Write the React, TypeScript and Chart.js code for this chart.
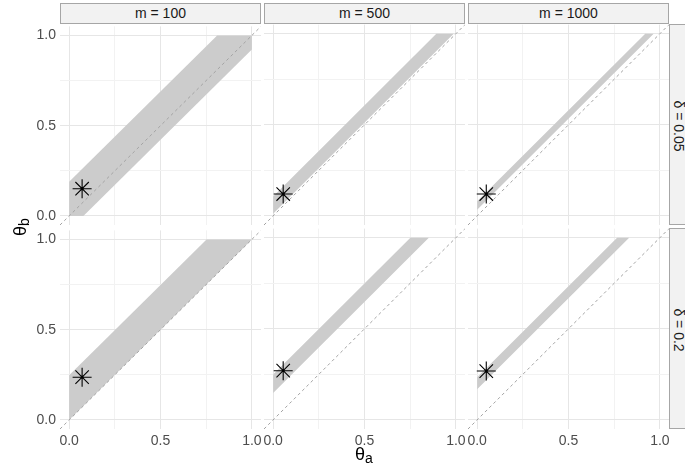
import React, { useEffect, useRef } from 'react';
import Chart from 'chart.js/auto';

// ---- data ----
const colLabels = ['m = 100', 'm = 500', 'm = 1000'];
const rowLabels = ['δ = 0.05', 'δ = 0.2'];
// panels in row-major order: row δ=0.05 (m=100, 500, 1000), row δ=0.2 (m=100, 500, 1000)
const bandLower = [-0.078, 0.012, 0.034, 0.0, 0.148, 0.168];
const bandUpper = [0.19, 0.107, 0.08, 0.248, 0.249, 0.234];
const pointX = [0.071, 0.055, 0.05, 0.071, 0.055, 0.05];
const pointY = [0.151, 0.12, 0.12, 0.237, 0.27, 0.268];
const diagX = [-0.05, 1.05];
const axisTicks = [0, 0.25, 0.5, 0.75, 1];
const tickLabels = ['0.0', '', '0.5', '', '1.0'];
const axisMin = -0.05;
const axisMax = 1.05;

// ---- layout ----
const FONT = '"Liberation Sans", Arial, Helvetica, sans-serif';
const PX = [60, 264, 468];
const PY = [24, 228];
const PW = 201;
const PH = 201;
const PADL = 50;
const PADR = 20;
const PADT = 10;
const PADB = 40;
const YAXW = 35;
const XAXH = 30;

type Pt = { x: number; y: number };

function clip(poly: Pt[], f: (p: Pt) => number): Pt[] {
  const out: Pt[] = [];
  for (let i = 0; i < poly.length; i++) {
    const a = poly[i];
    const b = poly[(i + 1) % poly.length];
    const fa = f(a);
    const fb = f(b);
    if (fa >= 0) out.push(a);
    if ((fa >= 0) !== (fb >= 0)) {
      const t = fa / (fa - fb);
      out.push({ x: a.x + t * (b.x - a.x), y: a.y + t * (b.y - a.y) });
    }
  }
  return out;
}

function bandPolygon(lo: number, hi: number): Pt[] {
  let poly: Pt[] = [
    { x: 0, y: 0 },
    { x: 1, y: 0 },
    { x: 1, y: 1 },
    { x: 0, y: 1 },
  ];
  poly = clip(poly, (p) => p.y - p.x - lo);
  poly = clip(poly, (p) => p.x + hi - p.y);
  return poly;
}

function tickLabel(v: number): string {
  const k = axisTicks.findIndex((t) => Math.abs(t - v) < 1e-9);
  return k >= 0 ? tickLabels[k] : '';
}

function isMajor(v: number | undefined): boolean {
  if (v === undefined) return false;
  return tickLabel(v) !== '';
}

function Panel({ r, c }: { r: number; c: number }) {
  const ref = useRef<HTMLCanvasElement | null>(null);
  const i = r * 3 + c;
  const w = PADL + PW + PADR;
  const h = PADT + PH + PADB;
  useEffect(() => {
    if (!ref.current) return;
    const poly = bandPolygon(bandLower[i], bandUpper[i]);
    const diag = diagX.map((v) => ({ x: v, y: v }));
    const gridColor = (ctx: any) => (isMajor(ctx.tick?.value) ? '#e6e6e6' : '#f2f2f2');
    const chart = new Chart(ref.current, {
      type: 'line',
      data: {
        datasets: [
          {
            data: [{ x: pointX[i], y: pointY[i] }],
            showLine: false,
            pointStyle: 'star',
            pointRadius: 9.5,
            pointBorderColor: '#000',
            pointBackgroundColor: '#000',
            pointBorderWidth: 1.1,
          } as any,
          {
            data: [{ x: pointX[i], y: pointY[i] }],
            showLine: false,
            pointStyle: 'circle',
            pointRadius: 1.2,
            pointBorderWidth: 0,
            pointBackgroundColor: '#000',
          } as any,
          {
            data: diag,
            borderColor: '#a3a3a3',
            borderWidth: 1,
            borderDash: [3, 3],
            pointRadius: 0,
            fill: false,
            tension: 0,
          } as any,
          {
            data: poly,
            borderWidth: 0,
            borderColor: 'rgba(0,0,0,0)',
            backgroundColor: '#cccccc',
            fill: 'shape',
            pointRadius: 0,
            tension: 0,
          } as any,
        ],
      },
      options: {
        animation: false,
        responsive: false,
        maintainAspectRatio: false,
        devicePixelRatio: 1,
        events: [],
        layout: {
          padding: {
            left: c === 0 ? PADL - YAXW : PADL,
            right: PADR,
            top: PADT,
            bottom: r === 1 ? PADB - XAXH : PADB,
          },
        },
        plugins: { legend: { display: false }, tooltip: { enabled: false } },
        scales: {
          x: {
            type: 'linear',
            min: axisMin,
            max: axisMax,
            afterBuildTicks: (s: any) => {
              s.ticks = axisTicks.map((v) => ({ value: v }));
            },
            afterFit: (s: any) => {
              s.height = r === 1 ? XAXH : 0;
            },
            ticks: {
              display: r === 1,
              autoSkip: false,
              maxRotation: 0,
              minRotation: 0,
              padding: 4,
              color: '#4d4d4d',
              font: { size: 14, family: FONT },
              callback: (v: any) => tickLabel(Number(v)),
            },
            grid: { color: gridColor, lineWidth: 1, drawTicks: false },
            border: { display: false },
          },
          y: {
            type: 'linear',
            min: axisMin,
            max: axisMax,
            afterBuildTicks: (s: any) => {
              s.ticks = axisTicks.map((v) => ({ value: v }));
            },
            afterFit: (s: any) => {
              s.width = c === 0 ? YAXW : 0;
            },
            ticks: {
              display: c === 0,
              autoSkip: false,
              padding: 4,
              color: '#4d4d4d',
              font: { size: 14, family: FONT },
              callback: (v: any) => tickLabel(Number(v)),
            },
            grid: { color: gridColor, lineWidth: 1, drawTicks: false },
            border: { display: false },
          },
        },
      } as any,
    });
    return () => chart.destroy();
  }, [r, c, i]);
  return (
    <canvas
      ref={ref}
      width={w}
      height={h}
      style={{
        position: 'absolute',
        left: PX[c] - PADL,
        top: PY[r] - PADT,
        width: w,
        height: h,
      }}
    />
  );
}

export default function App() {
  const panels: { r: number; c: number }[] = [];
  for (let r = 0; r < 2; r++) for (let c = 0; c < 3; c++) panels.push({ r, c });
  return (
    <div
      style={{
        position: 'absolute',
        left: 0,
        top: 0,
        width: 685,
        height: 471,
        overflow: 'hidden',
        background: '#fff',
        fontFamily: FONT,
      }}
    >
      {colLabels.map((t, c) => (
        <div
          key={'cs' + c}
          style={{
            position: 'absolute',
            left: PX[c],
            top: 3,
            width: PW,
            height: 21,
            boxSizing: 'border-box',
            background: '#f2f2f2',
            border: '1px solid #a6a6a6',
            color: '#1a1a1a',
            fontSize: 14,
            lineHeight: '19px',
            textAlign: 'center',
          }}
        >
          {t}
        </div>
      ))}
      {rowLabels.map((t, r) => (
        <div
          key={'rs' + r}
          style={{
            position: 'absolute',
            left: 669,
            top: PY[r],
            width: 22,
            height: PH,
            boxSizing: 'border-box',
            background: '#f2f2f2',
            border: '1px solid #a6a6a6',
            color: '#1a1a1a',
          }}
        >
          <div
            style={{
              position: 'absolute',
              left: 9 - 60,
              top: PH / 2 - 10,
              width: 120,
              height: 20,
              lineHeight: '20px',
              fontSize: 14,
              textAlign: 'center',
              transform: 'rotate(90deg)',
              whiteSpace: 'nowrap',
            }}
          >
            {t}
          </div>
        </div>
      ))}
      {panels.map((p) => (
        <Panel key={p.r + '-' + p.c} r={p.r} c={p.c} />
      ))}
      <div
        style={{
          position: 'absolute',
          left: 364 - 40,
          top: 444,
          width: 80,
          height: 22,
          lineHeight: '20px',
          fontSize: 18,
          textAlign: 'center',
          color: '#000',
          whiteSpace: 'nowrap',
        }}
      >
        θ<span style={{ fontSize: 14, position: 'relative', top: 3 }}>a</span>
      </div>
      <div
        style={{
          position: 'absolute',
          left: 21 - 40,
          top: 227 - 11,
          width: 80,
          height: 22,
          lineHeight: '20px',
          fontSize: 18,
          textAlign: 'center',
          color: '#000',
          whiteSpace: 'nowrap',
          transform: 'rotate(-90deg)',
        }}
      >
        θ<span style={{ fontSize: 14, position: 'relative', top: 3 }}>b</span>
      </div>
    </div>
  );
}
